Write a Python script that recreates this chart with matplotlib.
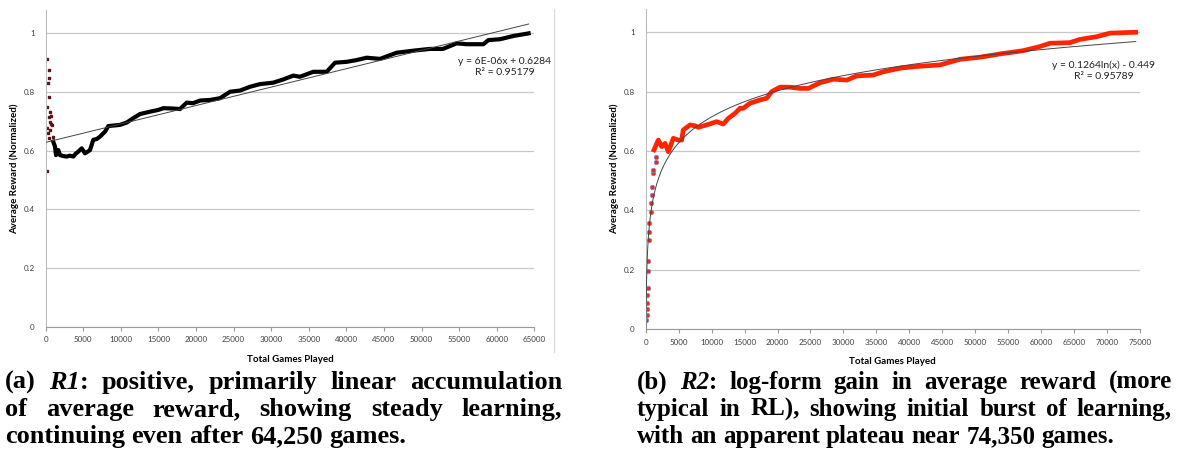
import numpy as np
import matplotlib
matplotlib.use("Agg")
import matplotlib.pyplot as plt
from matplotlib.lines import Line2D

# ---- data ----
# (a) R1 : scattered first games, then the dense running average
r1_early_x = [215, 440, 480, 350, 480, 210, 570, 380, 560, 800, 210, 560, 380, 930, 210, 700, 650, 300]
r1_early_y = [0.913, 0.875, 0.849, 0.832, 0.782, 0.750, 0.733, 0.716, 0.699, 0.688,
              0.676, 0.670, 0.642, 0.648, 0.531, 0.720, 0.690, 0.660]
r1_x = [1000, 1240, 1370, 1680, 1900, 2300, 2790, 3200, 3680, 4000, 4340, 4790, 5230, 5890,
        6330, 6800, 7220, 7890, 8330, 9100, 9880, 10780, 11650, 12550, 13880, 14980, 15650,
        16800, 17870, 18760, 19600, 20530, 21860, 23190, 24520, 25850, 27180, 28510, 30280,
        31610, 32940, 33830, 35600, 37380, 38490, 40040, 41370, 42700, 44470, 46690, 48900,
        51120, 52850, 54680, 56010, 58220, 58890, 60440, 62210, 64250]
r1_y = [0.631, 0.614, 0.585, 0.602, 0.585, 0.582, 0.580, 0.583, 0.580, 0.590, 0.597, 0.608,
        0.591, 0.602, 0.637, 0.640, 0.648, 0.665, 0.684, 0.686, 0.688, 0.696, 0.711, 0.725,
        0.733, 0.739, 0.745, 0.744, 0.742, 0.764, 0.762, 0.771, 0.773, 0.779, 0.801, 0.805,
        0.818, 0.827, 0.832, 0.843, 0.856, 0.852, 0.869, 0.869, 0.900, 0.903, 0.909, 0.917,
        0.913, 0.934, 0.941, 0.947, 0.947, 0.966, 0.963, 0.963, 0.977, 0.980, 0.991, 1.000]
r1_slope, r1_icept = 6.28e-6, 0.6284
r1_eq = "y = 6E-06x + 0.6284\nR² = 0.95179"

# (b) R2
r2_early_x = [45, 245, 150, 200, 245, 400, 400, 45, 400, 450, 550, 550, 760, 800, 900, 950,
              1060, 1150, 1560, 1500]
r2_early_y = [0.031, 0.048, 0.070, 0.087, 0.115, 0.138, 0.196, 0.231, 0.231, 0.300, 0.329,
              0.357, 0.396, 0.424, 0.452, 0.480, 0.525, 0.536, 0.564, 0.580]
r2_x = [1260, 1910, 2430, 2930, 3430, 4190, 4950, 5460, 5700, 6720, 7480, 7980, 9250, 10770,
        11780, 12530, 13550, 14310, 14810, 15820, 17340, 18360, 19110, 20380, 21890, 23410,
        24680, 26450, 28470, 30500, 32010, 34530, 36050, 38580, 40600, 44650, 47690, 50720,
        53750, 57290, 59820, 61340, 64370, 65890, 68420, 70440, 72970, 74350]
r2_y = [0.604, 0.637, 0.615, 0.626, 0.598, 0.643, 0.637, 0.637, 0.671, 0.688, 0.685, 0.680,
        0.688, 0.699, 0.691, 0.710, 0.727, 0.744, 0.744, 0.761, 0.772, 0.778, 0.800, 0.815,
        0.815, 0.811, 0.811, 0.830, 0.842, 0.839, 0.853, 0.856, 0.867, 0.879, 0.884, 0.890,
        0.909, 0.916, 0.927, 0.938, 0.952, 0.963, 0.965, 0.976, 0.985, 0.997, 0.999, 1.000]
r2_a, r2_b = 0.1264, -0.449
r2_eq = "y = 0.1264ln(x) - 0.449\nR² = 0.95789"

yticks = [0, 0.2, 0.4, 0.6, 0.8, 1]
ytick_labels = ["0", "0.2", "0.4", "0.6", "0.8", "1"]

caption_a = [
    [[("(a)", False)], [("R1", True), (":", False)], [("positive,", False)], [("primarily", False)],
     [("linear", False)], [("accumulation", False)]],
    [[(w, False)] for w in "of average reward, showing steady learning,".split()],
    [[(w, False)] for w in "continuing even after 64,250 games.".split()],
]
caption_b = [
    [[("(b)", False)], [("R2", True), (":", False)]] +
    [[(w, False)] for w in "log-form gain in average reward (more".split()],
    [[(w, False)] for w in "typical in RL), showing initial burst of learning,".split()],
    [[(w, False)] for w in "with an apparent plateau near 74,350 games.".split()],
]

W, H = 1181, 455
fig = plt.figure(figsize=(W / 100, H / 100), dpi=100)
plt.rcParams['font.family'] = ['Lato', 'DejaVu Sans']


def px_axes(x0, x1, y_top, y_bot):
    return fig.add_axes([x0 / W, 1 - y_bot / H, (x1 - x0) / W, (y_bot - y_top) / H])


def style(ax, xmax, xstep, ylab_x):
    ax.set_ylim(0, 1.08)
    ax.set_xlim(0, xmax)
    ax.set_yticks(yticks)
    ax.set_yticklabels(ytick_labels)
    ax.set_xticks(np.arange(0, xmax + 1, xstep))
    ax.grid(axis='y', color='#c8c8c8', lw=0.9)
    ax.set_axisbelow(True)
    for s in ['top', 'right']:
        ax.spines[s].set_visible(False)
    ax.spines['left'].set_color('#bdbdbd')
    ax.spines['bottom'].set_color('#9a9a9a')
    ax.tick_params(axis='x', length=3, color='#9a9a9a', labelsize=5.8, labelcolor='#404040', pad=4)
    ax.tick_params(axis='y', length=0, labelsize=5.8, labelcolor='#404040', pad=8)
    ax.set_ylabel("Average Reward (Normalized)", fontsize=7, fontweight='bold')
    ax.yaxis.set_label_coords(ylab_x, 0.5)
    ax.set_xlabel("Total Games Played", fontsize=7, fontweight='bold', labelpad=8)


# ---- left chart ----
ax1 = px_axes(45.7, 534.3, 9.9, 326.7)
style(ax1, 65000, 5000, -0.054)
tx = np.array([0, r1_x[-1]])
ax1.plot(tx, r1_slope * tx + r1_icept, color='#444444', lw=0.7, zorder=3)
ax1.plot(r1_x, r1_y, color='black', lw=3, solid_joinstyle='round', zorder=2)
ax1.plot(r1_early_x, r1_early_y, 's', ms=2, color='#5c1414', zorder=2)
t1 = ax1.text(0, 0, r1_eq, transform=None, fontsize=7.5, ha='center', va='center',
              color='#222222', linespacing=1.35)
t1.set_position((505, H - 67))

# ---- right chart ----
ax2 = px_axes(645.7, 1140, 8.5, 329.3)
style(ax2, 75000, 5000, -0.053)
lx = np.linspace(1, r2_x[-1], 2000)
ax2.plot(lx, r2_a * np.log(lx) + r2_b, color='#444444', lw=0.7, zorder=3)
ax2.plot(r2_x, r2_y, color='#ff2400', lw=3.4, solid_joinstyle='round', zorder=2)
ax2.plot(r2_early_x, r2_early_y, 'o', ms=3.2, mfc='#ff2400', mec='#8a86c8', mew=0.6, zorder=2)
t2 = ax2.text(0, 0, r2_eq, transform=None, fontsize=7.5, ha='center', va='center',
              color='#222222', linespacing=1.35)
t2.set_position((1104, H - 71))

# chart area border of the left chart
fig.add_artist(Line2D([554 / W, 554 / W], [1 - 9 / H, 1 - 352 / H], color='#d9d9d9', lw=0.8))

# ---- justified captions ----
fig.canvas.draw()
renderer = fig.canvas.get_renderer()


def caption(lines, x0, x1, baselines, size):
    space = 0.25 * size * 100 / 72
    for li, (words, yb) in enumerate(zip(lines, baselines)):
        objs = []
        widths = []
        for word in words:
            segs = []
            wsum = 0
            for txt, ital in word:
                t = fig.text(0, 0, txt, transform=None, fontsize=size, fontweight='bold',
                             fontstyle='italic' if ital else 'normal',
                             family='Liberation Serif', va='baseline', ha='left')
                w = t.get_window_extent(renderer).width
                segs.append((t, w))
                wsum += w
            objs.append(segs)
            widths.append(wsum)
        if li == len(lines) - 1:
            gap = space
        else:
            gap = (x1 - x0 - sum(widths)) / (len(words) - 1)
        x = x0
        for segs, wsum in zip(objs, widths):
            xs = x
            for t, w in segs:
                t.set_position((xs, H - yb))
                xs += w
            x += wsum + gap


caption(caption_a, 5, 562, [389, 416, 443], 19)
caption(caption_b, 637, 1172, [389, 416, 443], 18)

fig.savefig("out.png", dpi=100)
